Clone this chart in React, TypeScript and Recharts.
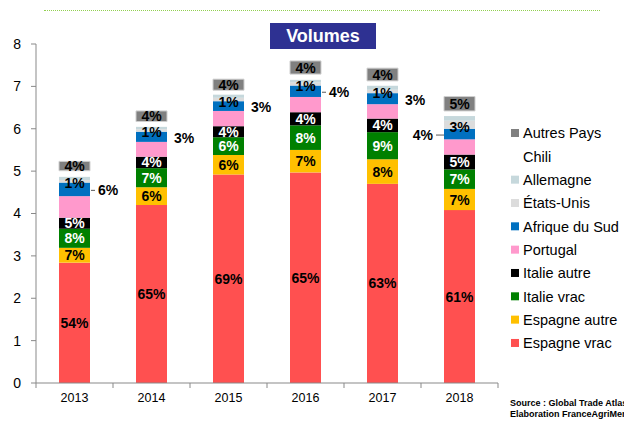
import React from 'react';
import { BarChart, Bar, XAxis, YAxis, LabelList } from 'recharts';

const years = ['2013', '2014', '2015', '2016', '2017', '2018'];
const espagneVrac = [2.84, 4.2, 4.92, 4.97, 4.7, 4.08];
const espagneAutre = [0.35, 0.42, 0.46, 0.53, 0.58, 0.5];
const italieVrac = [0.45, 0.45, 0.42, 0.58, 0.64, 0.46];
const italieAutre = [0.26, 0.27, 0.26, 0.31, 0.32, 0.35];
const portugal = [0.51, 0.35, 0.36, 0.36, 0.34, 0.36];
const afriqueDuSud = [0.32, 0.24, 0.23, 0.27, 0.26, 0.25];
const etatsUnis = [0.06, 0.06, 0.08, 0.07, 0.08, 0.19];
const allemagne = [0.08, 0.06, 0.08, 0.07, 0.1, 0.11];
const chili = [0.14, 0.12, 0.1, 0.13, 0.11, 0.12];
const autresPays = [0.22, 0.25, 0.26, 0.31, 0.3, 0.34];

const lblEspagneVrac = ['54%', '65%', '69%', '65%', '63%', '61%'];
const lblEspagneAutre = ['7%', '6%', '6%', '7%', '8%', '7%'];
const lblItalieVrac = ['8%', '7%', '6%', '8%', '9%', '7%'];
const lblItalieAutre = ['5%', '4%', '4%', '4%', '4%', '5%'];
const lblAfriqueDuSud = ['6%', '3%', '3%', '4%', '3%', '4%'];
const lblEtatsUnis = ['1%', '1%', '1%', '1%', '1%', '3%'];
const lblAutresPays = ['4%', '4%', '4%', '4%', '4%', '5%'];

const yTicks = [0, 1, 2, 3, 4, 5, 6, 7, 8];

const FONT = '"Liberation Sans", Arial, Helvetica, sans-serif';

type Series = {
  key: string;
  name: string;
  color: string;
  values: number[];
  labels?: string[];
  labelColor?: string;
  kind?: 'center' | 'outside' | 'low';
  stroke?: string;
};

const series: Series[] = [
  { key: 'espagneVrac', name: 'Espagne vrac', color: '#FF5050', values: espagneVrac, labels: lblEspagneVrac, labelColor: '#000', kind: 'center' },
  { key: 'espagneAutre', name: 'Espagne autre', color: '#FFC000', values: espagneAutre, labels: lblEspagneAutre, labelColor: '#000', kind: 'center' },
  { key: 'italieVrac', name: 'Italie vrac', color: '#008000', values: italieVrac, labels: lblItalieVrac, labelColor: '#fff', kind: 'center' },
  { key: 'italieAutre', name: 'Italie autre', color: '#000000', values: italieAutre, labels: lblItalieAutre, labelColor: '#fff', kind: 'center' },
  { key: 'portugal', name: 'Portugal', color: '#FF99CC', values: portugal },
  { key: 'afriqueDuSud', name: 'Afrique du Sud', color: '#0070C0', values: afriqueDuSud, labels: lblAfriqueDuSud, labelColor: '#000', kind: 'outside' },
  { key: 'etatsUnis', name: 'États-Unis', color: '#DCDCDC', values: etatsUnis, labels: lblEtatsUnis, labelColor: '#000', kind: 'low' },
  { key: 'allemagne', name: 'Allemagne', color: '#C6D8DC', values: allemagne },
  { key: 'chili', name: 'Chili', color: '#FFFFFF', values: chili },
  { key: 'autresPays', name: 'Autres Pays', color: '#808080', values: autresPays, labels: lblAutresPays, labelColor: '#000', kind: 'center', stroke: '#cfcfcf' },
];

const data = years.map((year, i) => {
  const row: Record<string, string | number> = { year };
  series.forEach((s) => {
    row[s.key] = s.values[i];
    if (s.labels) row[s.key + '_lbl'] = s.labels[i];
  });
  return row;
});

const afriquePlacement = ['right-line', 'right', 'right', 'right-line', 'right', 'left-line'];

const makeCenterLabel = (color: string, dy: number) => (p: any) => {
  const x = Number(p.x), y = Number(p.y), w = Number(p.width), h = Number(p.height);
  return (
    <text
      x={x + w / 2}
      y={y + h / 2 + dy}
      textAnchor="middle"
      dominantBaseline="central"
      fill={color}
      style={{ fontFamily: FONT, fontWeight: 700, fontSize: 14 }}
    >
      {p.value}
    </text>
  );
};

const renderOutside = (p: any) => {
  const x = Number(p.x), y = Number(p.y), w = Number(p.width), h = Number(p.height);
  const cy = y + h / 2 + 1;
  const place = afriquePlacement[p.index] || 'right';
  const style = { fontFamily: FONT, fontWeight: 700, fontSize: 14 };
  if (place === 'left-line') {
    return (
      <g>
        <line x1={x - 8} x2={x} y1={cy} y2={cy} stroke="#595959" strokeWidth={1} />
        <text x={x - 11} y={cy} textAnchor="end" dominantBaseline="central" fill="#000" style={style}>{p.value}</text>
      </g>
    );
  }
  if (place === 'right-line') {
    return (
      <g>
        <line x1={x + w + 1} x2={x + w + 5} y1={cy} y2={cy} stroke="#595959" strokeWidth={1} />
        <text x={x + w + 8} y={cy} textAnchor="start" dominantBaseline="central" fill="#000" style={style}>{p.value}</text>
      </g>
    );
  }
  return (
    <text x={x + w + 7} y={cy} textAnchor="start" dominantBaseline="central" fill="#000" style={style}>{p.value}</text>
  );
};

const XTick = (props: any) => {
  const { x, y, payload, index, visibleTicksCount } = props;
  const off = payload && typeof payload.offset === 'number' ? payload.offset : 38.5;
  const last = index === (visibleTicksCount ?? years.length) - 1;
  return (
    <g>
      <line x1={x - off} x2={x - off} y1={y} y2={y + 5} stroke="#898989" strokeWidth={1} />
      {last && <line x1={x + off} x2={x + off} y1={y} y2={y + 5} stroke="#898989" strokeWidth={1} />}
      <text x={x} y={y + 19} textAnchor="middle" fill="#000" style={{ fontFamily: FONT, fontSize: 12.5 }}>
        {payload.value}
      </text>
    </g>
  );
};

const LegendBlock = () => {
  const items = [...series].reverse();
  return (
    <svg
      width={116}
      height={240}
      style={{ position: 'absolute', left: 508, top: 120, overflow: 'visible', display: 'block' }}
    >
      {items.map((s, i) => (
        <g key={s.key}>
          <rect x={3} y={9 + i * 23.33} width={8} height={8} fill={s.color} />
          <text x={15} y={18.3 + i * 23.33} fill="#000" style={{ fontFamily: FONT, fontSize: 14.5 }}>
            {s.name}
          </text>
        </g>
      ))}
    </svg>
  );
};

export default function App() {
  return (
    <div style={{ position: 'absolute', left: 0, top: 0, width: 624, height: 421, overflow: 'hidden', background: '#fff' }}>
      <div style={{ position: 'absolute', left: 44, top: 10, width: 556, borderTop: '1.5px dotted #92D050' }} />
      <BarChart width={624} height={421} data={data} margin={{ top: 44, right: 126, bottom: 8, left: 6 }} barSize={31}>
        <XAxis
          dataKey="year"
          height={30}
          stroke="#898989"
          tickLine={false}
          tickSize={0}
          tickMargin={0}
          tick={<XTick />}
          interval={0}
        />
        <YAxis
          width={30}
          domain={[0, 8]}
          ticks={yTicks}
          interval={0}
          stroke="#898989"
          tickSize={5}
          tickMargin={10}
          tick={{ fontFamily: FONT, fontSize: 14, fill: '#000' }}
          allowDataOverflow
        />
        {series.map((s) => (
          <Bar
            key={s.key}
            dataKey={s.key}
            name={s.name}
            stackId="a"
            fill={s.color}
            stroke={s.stroke}
            strokeWidth={s.stroke ? 1 : 0}
            isAnimationActive={false}
          >
            {s.labels && s.kind === 'center' && (
              <LabelList dataKey={s.key + '_lbl'} content={makeCenterLabel(s.labelColor || '#000', 0)} />
            )}
            {s.labels && s.kind === 'low' && (
              <LabelList dataKey={s.key + '_lbl'} content={makeCenterLabel(s.labelColor || '#000', 2)} />
            )}
            {s.labels && s.kind === 'outside' && (
              <LabelList dataKey={s.key + '_lbl'} content={renderOutside} />
            )}
          </Bar>
        ))}
      </BarChart>
      <div
        style={{
          position: 'absolute', left: 270, top: 23, width: 106, height: 26, background: '#2E3192', color: '#fff',
          fontFamily: FONT, fontWeight: 700, fontSize: 18, lineHeight: '26px', textAlign: 'center',
        }}
      >
        Volumes
      </div>
      <LegendBlock />
      <div
        style={{
          position: 'absolute', left: 510, top: 398, fontFamily: FONT, fontWeight: 700, fontSize: 9,
          lineHeight: '11px', color: '#000', whiteSpace: 'nowrap',
        }}
      >
        <div>Source : Global Trade Atlas</div>
        <div>Elaboration FranceAgriMer</div>
      </div>
    </div>
  );
}
